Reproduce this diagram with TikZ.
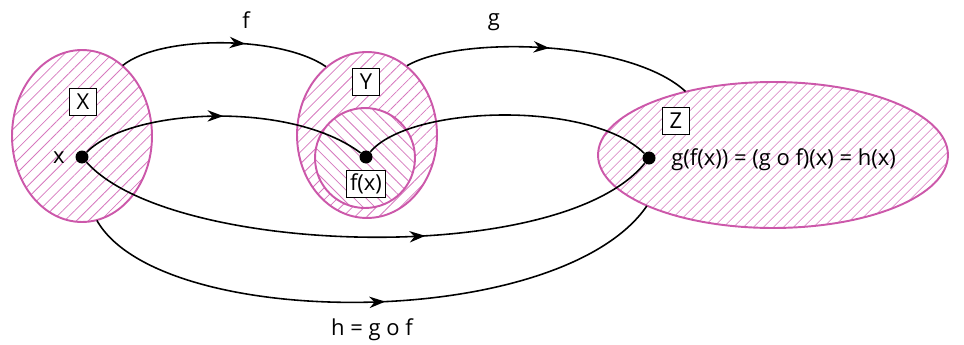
\documentclass[tikz,border=0pt]{standalone}
\usepackage{fontspec}
\setmainfont{Open Sans}
\usetikzlibrary{shapes.geometric,patterns.meta,decorations.markings,arrows.meta}
\definecolor{pinkc}{RGB}{204,88,170}
\definecolor{hatchc}{RGB}{214,120,190}
\begin{document}
\begin{tikzpicture}[x=0.02cm,y=-0.02cm,
  font=\fontsize{12.5}{14}\selectfont,
  setshape/.style={ellipse, draw=pinkc, line width=1.1pt, inner sep=0pt},
  hatchne/.style={pattern={Lines[angle=45,distance=#1,line width=0.45pt]}, pattern color=hatchc},
  hatchnw/.style={pattern={Lines[angle=-45,distance=#1,line width=0.45pt]}, pattern color=hatchc},
  namebox/.style={draw, fill=white, line width=0.5pt, inner sep=2pt, minimum height=0.54cm, minimum width=0.54cm},
  dotpt/.style={circle, fill=black, inner sep=0pt, minimum size=0.26cm},
  maparrow/.style={line width=0.9pt, postaction={decorate},
    decoration={markings, mark=at position #1 with {\arrow{Stealth[length=9pt,width=6.5pt]}}}},
  plain/.style={line width=0.9pt}
]
\useasboundingbox (0,0) rectangle (964,345);
% sets
\node[setshape, hatchne=4.8pt, minimum width=2.8cm, minimum height=3.44cm] (X) at (82,136) {};
\node[setshape, hatchne=4.8pt, minimum width=2.8cm, minimum height=3.32cm] (Y) at (367,135) {};
\node[setshape, hatchnw=4.8pt, preaction={fill=white}, minimum width=2.0cm, minimum height=2.0cm] (Yin) at (365,158) {};
\node[setshape, hatchne=4pt, minimum width=7.0cm, minimum height=2.92cm] (Z) at (773,155) {};
% name boxes
\node[namebox] (lX) at (83,102) {X};
\node[namebox] (lY) at (366,82) {Y};
\node[namebox] (lfx) at (366,184) {f(x)};
\node[namebox] (lZ) at (676,121) {Z};
% points
\node[dotpt] (px) at (82,157) {};
\node[dotpt] (pfx) at (366,157) {};
\node[dotpt] (pz) at (649,158) {};
\node (tx) at (59,158) {x};
\node[anchor=west, inner sep=0pt] (tz) at (671,160) {g(f(x)) = (g o f)(x) = h(x)};
% map labels
\node (tf) at (246,20) {f};
\node (tg) at (494,22) {g};
\node (th) at (372,330) {h = g o f};
% maps between sets
\draw[maparrow=0.6] (X.60) .. controls (160,35) and (280,35) .. (Y.121);
\draw[maparrow=0.5] (Y.60) .. controls (460,35) and (630,40) .. (Z.144);
\draw[maparrow=0.52] (X.280) .. controls (160,332) and (560,332) .. (Z.202);
% maps between points
\draw[maparrow=0.5] (px) .. controls (130,108) and (290,100) .. (pfx);
\draw[plain] (pfx) .. controls (410,105) and (590,100) .. (pz);
\draw[maparrow=0.6] (px) .. controls (170,256) and (560,268) .. (pz);
\end{tikzpicture}
\end{document}
